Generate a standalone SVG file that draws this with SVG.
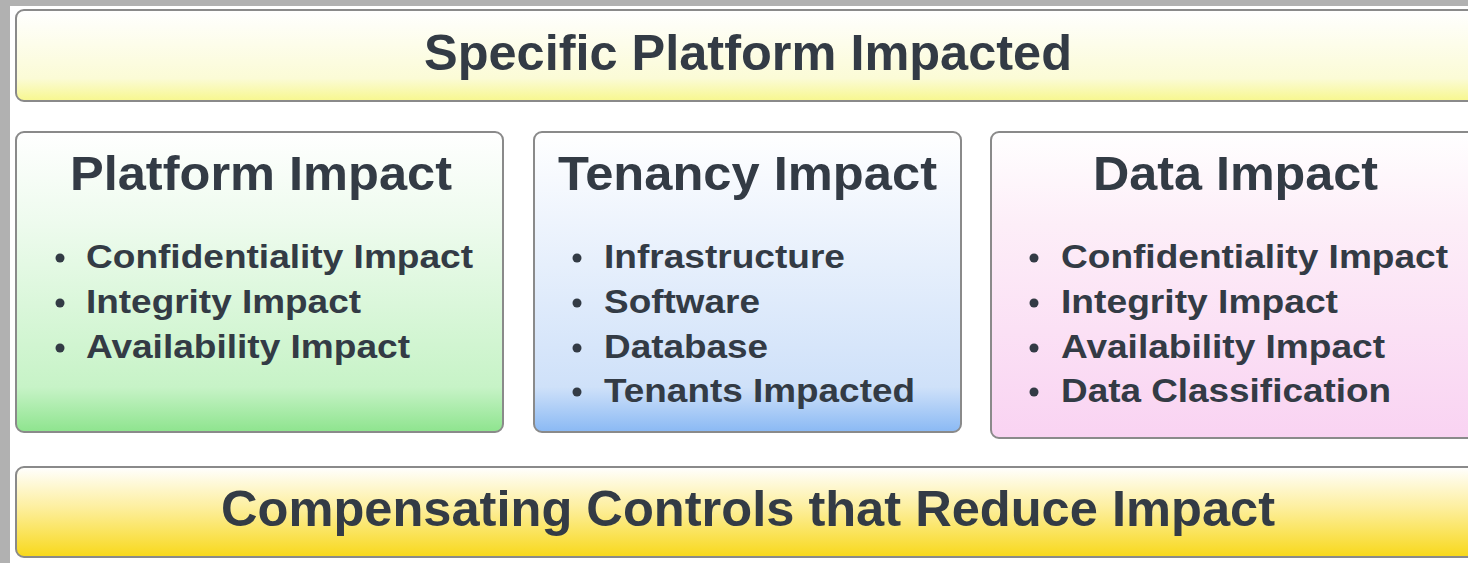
<svg xmlns="http://www.w3.org/2000/svg" width="1468" height="563" viewBox="0 0 1468 563">
  <style>
    .box { stroke: #8a8a8a; stroke-width: 2; }
    .title { font-family: "Liberation Sans", Arial, sans-serif; font-weight: bold; fill: #333b45; text-anchor: middle; }
    .item { font-family: "Liberation Sans", Arial, sans-serif; font-weight: bold; fill: #333b45; font-size: 34px; }
    .dot { fill: #333b45; }
  </style>
  <defs>
    <linearGradient id="gTop" x1="0" y1="0" x2="0" y2="1">
      <stop offset="0" stop-color="#ffffff"/>
      <stop offset="0.75" stop-color="#fbfbd6"/>
      <stop offset="1" stop-color="#f7f78e"/>
    </linearGradient>
    <linearGradient id="gGreen" x1="0" y1="0" x2="0" y2="1">
      <stop offset="0" stop-color="#ffffff"/>
      <stop offset="0.3" stop-color="#eefbee"/>
      <stop offset="0.85" stop-color="#c7f3c7"/>
      <stop offset="1" stop-color="#8ee48e"/>
    </linearGradient>
    <linearGradient id="gBlue" x1="0" y1="0" x2="0" y2="1">
      <stop offset="0" stop-color="#ffffff"/>
      <stop offset="0.3" stop-color="#eef4fd"/>
      <stop offset="0.85" stop-color="#cfe1f9"/>
      <stop offset="1" stop-color="#8ab9f4"/>
    </linearGradient>
    <linearGradient id="gPink" x1="0" y1="0" x2="0" y2="1">
      <stop offset="0" stop-color="#ffffff"/>
      <stop offset="0.3" stop-color="#fdeef8"/>
      <stop offset="1" stop-color="#f9d3f2"/>
    </linearGradient>
    <linearGradient id="gYellow" x1="0" y1="0" x2="0" y2="1">
      <stop offset="0" stop-color="#ffffff"/>
      <stop offset="0.45" stop-color="#fdef9e"/>
      <stop offset="1" stop-color="#f8d81a"/>
    </linearGradient>
  </defs>

  <!-- page frame -->
  <rect x="0" y="0" width="1468" height="563" fill="#b1b1b1"/>
  <rect x="10" y="6" width="1458" height="557" fill="#ffffff"/>

  <g id="specific-platform">
    <rect class="box" x="16" y="10" width="1466" height="91" rx="8" fill="url(#gTop)"/>
    <text class="title" x="748" y="70" font-size="50" textLength="648" lengthAdjust="spacingAndGlyphs">Specific Platform Impacted</text>
  </g>

  <g id="platform-impact">
    <rect class="box" x="16" y="132" width="487" height="300" rx="8" fill="url(#gGreen)"/>
    <text class="title" x="261" y="190" font-size="49" textLength="382" lengthAdjust="spacingAndGlyphs">Platform Impact</text>
    <circle class="dot" cx="60" cy="258" r="4.5"/>
    <circle class="dot" cx="60" cy="303" r="4.5"/>
    <circle class="dot" cx="60" cy="348" r="4.5"/>
    <text class="item" x="86" y="268" textLength="387" lengthAdjust="spacingAndGlyphs">Confidentiality Impact</text>
    <text class="item" x="86" y="313" textLength="275" lengthAdjust="spacingAndGlyphs">Integrity Impact</text>
    <text class="item" x="86" y="358" textLength="324" lengthAdjust="spacingAndGlyphs">Availability Impact</text>
  </g>

  <g id="tenancy-impact">
    <rect class="box" x="534" y="132" width="427" height="300" rx="8" fill="url(#gBlue)"/>
    <text class="title" x="747.5" y="190" font-size="49" textLength="379" lengthAdjust="spacingAndGlyphs">Tenancy Impact</text>
    <circle class="dot" cx="577" cy="258" r="4.5"/>
    <circle class="dot" cx="577" cy="303" r="4.5"/>
    <circle class="dot" cx="577" cy="348" r="4.5"/>
    <circle class="dot" cx="577" cy="392" r="4.5"/>
    <text class="item" x="604" y="268" textLength="241" lengthAdjust="spacingAndGlyphs">Infrastructure</text>
    <text class="item" x="604" y="313" textLength="156" lengthAdjust="spacingAndGlyphs">Software</text>
    <text class="item" x="604" y="358" textLength="164" lengthAdjust="spacingAndGlyphs">Database</text>
    <text class="item" x="604" y="402" textLength="311" lengthAdjust="spacingAndGlyphs">Tenants Impacted</text>
  </g>

  <g id="data-impact">
    <rect class="box" x="991" y="132" width="491" height="306" rx="8" fill="url(#gPink)"/>
    <text class="title" x="1235.5" y="190" font-size="49" textLength="285" lengthAdjust="spacingAndGlyphs">Data Impact</text>
    <circle class="dot" cx="1034" cy="258" r="4.5"/>
    <circle class="dot" cx="1034" cy="303" r="4.5"/>
    <circle class="dot" cx="1034" cy="348" r="4.5"/>
    <circle class="dot" cx="1034" cy="392" r="4.5"/>
    <text class="item" x="1061" y="268" textLength="387" lengthAdjust="spacingAndGlyphs">Confidentiality Impact</text>
    <text class="item" x="1061" y="313" textLength="277" lengthAdjust="spacingAndGlyphs">Integrity Impact</text>
    <text class="item" x="1061" y="358" textLength="324" lengthAdjust="spacingAndGlyphs">Availability Impact</text>
    <text class="item" x="1061" y="402" textLength="330" lengthAdjust="spacingAndGlyphs">Data Classification</text>
  </g>

  <g id="compensating-controls">
    <rect class="box" x="16" y="467" width="1466" height="90" rx="8" fill="url(#gYellow)"/>
    <text class="title" x="748" y="526" font-size="50" textLength="1054" lengthAdjust="spacingAndGlyphs">Compensating Controls that Reduce Impact</text>
  </g>

  <g id="connectors"></g>
</svg>
